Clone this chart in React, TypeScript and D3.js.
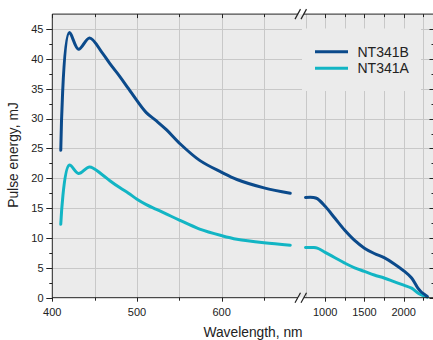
import React, { useEffect, useRef } from 'react';
import * as d3 from 'd3';

// wavelengths, nm (left part of the broken axis and right part)
const wlLeft = [410, 420, 431, 444, 459, 468, 480, 490, 500, 511, 523, 535, 550, 574, 600, 618, 650, 681];
const nt341bLeft = [24.7, 44.4, 41.6, 43.5, 41.0, 39.2, 37.0, 35.0, 33.0, 31.0, 29.6, 28.1, 25.9, 23.0, 21.0, 19.8, 18.4, 17.5];
const nt341aLeft = [12.3, 22.2, 20.8, 21.9, 20.6, 19.6, 18.4, 17.5, 16.5, 15.6, 14.8, 14.0, 13.0, 11.5, 10.4, 9.8, 9.2, 8.8];

const wlRight = [750, 850, 900, 1000, 1125, 1250, 1375, 1500, 1625, 1750, 1875, 2000, 2100, 2180, 2220, 2260, 2300];
const nt341bRight = [16.8, 16.8, 16.6, 15.3, 13.3, 11.3, 9.6, 8.3, 7.4, 6.7, 5.7, 4.5, 3.3, 1.6, 1.0, 0.6, 0.2];
const nt341aRight = [8.4, 8.4, 8.3, 7.6, 6.7, 5.8, 5.0, 4.4, 3.8, 3.3, 2.7, 2.1, 1.6, 0.8, 0.5, 0.3, 0.1];

const leftTicks = [400, 500, 600];
const leftMinor = [450, 550, 650];
const rightTicks = [1000, 1500, 2000];
const rightMinor = [1250, 1750, 2250];
const yTicks = [0, 5, 10, 15, 20, 25, 30, 35, 40, 45];

const seriesNames = ['NT341B', 'NT341A'];
const colors = ['#0b4a8b', '#12b5c4'];

const W = 433;
const H = 340;

const App = () => {
  const svgRef = useRef<SVGSVGElement>(null);

  useEffect(() => {
    const svg = d3.select(svgRef.current);
    svg.selectAll('*').remove();

    const top = 14.1, bottom = 297.7, left = 52.3, right = 433.5;
    const breakL = 298, breakR = 304;

    const xL = d3.scaleLinear().domain([400, 690]).range([left, 297.9]);
    const xR = d3.scaleLinear().domain([750, 2400]).range([305.5, 435.2]);
    const y = d3.scaleLinear().domain([0, 47.5]).range([bottom, top]);

    const font = 'Arial, "Liberation Sans", sans-serif';

    // plot background
    svg.append('rect')
      .attr('x', left).attr('y', top)
      .attr('width', right - left).attr('height', bottom - top)
      .attr('fill', '#ebebeb');

    // grid
    const grid = svg.append('g').attr('stroke', '#c8c8c8').attr('stroke-width', 1);
    yTicks.filter(d => d > 0).forEach(d => {
      grid.append('line')
        .attr('x1', left).attr('x2', right)
        .attr('y1', Math.round(y(d)) + 0.5).attr('y2', Math.round(y(d)) + 0.5);
    });
    [450, 500, 550, 600, 650].forEach(d => {
      grid.append('line')
        .attr('x1', Math.round(xL(d)) + 0.5).attr('x2', Math.round(xL(d)) + 0.5)
        .attr('y1', top).attr('y2', bottom);
    });
    [750, 1000, 1250, 1500, 1750, 2000, 2250].forEach(d => {
      grid.append('line')
        .attr('x1', Math.round(xR(d)) + 0.5).attr('x2', Math.round(xR(d)) + 0.5)
        .attr('y1', top).attr('y2', bottom);
    });

    // legend box hides the grid behind it
    svg.append('rect')
      .attr('x', 302).attr('y', 28.5)
      .attr('width', 119).attr('height', 62.5)
      .attr('fill', '#ebebeb');

    // curves
    const lineL = d3.line<number>()
      .x((_, i) => xL(wlLeft[i]))
      .y(d => y(d))
      .curve(d3.curveCatmullRom.alpha(0.5));
    const lineR = d3.line<number>()
      .x((_, i) => xR(wlRight[i]))
      .y(d => y(d))
      .curve(d3.curveCatmullRom.alpha(0.5));

    const drawSeries = (vals: number[], gen: d3.Line<number>, color: string) => {
      svg.append('path')
        .attr('d', gen(vals))
        .attr('fill', 'none')
        .attr('stroke', color)
        .attr('stroke-width', 3)
        .attr('stroke-linecap', 'round')
        .attr('stroke-linejoin', 'round');
    };
    drawSeries(nt341aLeft, lineL, colors[1]);
    drawSeries(nt341aRight, lineR, colors[1]);
    drawSeries(nt341bLeft, lineL, colors[0]);
    drawSeries(nt341bRight, lineR, colors[0]);

    // axes
    const ax = svg.append('g').attr('stroke', '#222').attr('stroke-width', 1).attr('fill', 'none');
    // left axis
    ax.append('line').attr('x1', left).attr('x2', left).attr('y1', top).attr('y2', bottom + 0.5);
    yTicks.forEach(d => {
      ax.append('line').attr('x1', left - 6).attr('x2', left)
        .attr('y1', Math.round(y(d)) + 0.5).attr('y2', Math.round(y(d)) + 0.5);
      ax.append('line').attr('x1', right - 4).attr('x2', right)
        .attr('y1', Math.round(y(d)) + 0.5).attr('y2', Math.round(y(d)) + 0.5);
    });
    yTicks.slice(0, -1).map(d => d + 2.5).forEach(d => {
      ax.append('line').attr('x1', left - 3).attr('x2', left)
        .attr('y1', Math.round(y(d)) + 0.5).attr('y2', Math.round(y(d)) + 0.5);
      ax.append('line').attr('x1', right - 2).attr('x2', right)
        .attr('y1', Math.round(y(d)) + 0.5).attr('y2', Math.round(y(d)) + 0.5);
    });
    ax.append('line').attr('x1', right).attr('x2', right).attr('y1', top).attr('y2', bottom);

    // top and bottom axis lines, broken
    [top, bottom].forEach(yy => {
      ax.append('line').attr('x1', left).attr('x2', breakL).attr('y1', yy).attr('y2', yy);
      ax.append('line').attr('x1', breakR).attr('x2', right).attr('y1', yy).attr('y2', yy);
    });

    const xTick = (px: number, len: number) => {
      const xx = Math.round(px) + 0.5;
      ax.append('line').attr('x1', xx).attr('x2', xx).attr('y1', bottom).attr('y2', bottom + len);
      ax.append('line').attr('x1', xx).attr('x2', xx).attr('y1', top).attr('y2', top + len);
    };
    leftTicks.forEach(d => xTick(xL(d), 4));
    leftMinor.forEach(d => xTick(xL(d), 3));
    rightTicks.forEach(d => xTick(xR(d), 4));
    rightMinor.forEach(d => xTick(xR(d), 3));

    // break marks
    [top, bottom].forEach(yy => {
      [0, 6].forEach(dx => {
        ax.append('line')
          .attr('x1', 295 + dx).attr('y1', yy + 5)
          .attr('x2', 300.5 + dx).attr('y2', yy - 5)
          .attr('stroke-width', 1.2);
      });
    });

    // tick labels
    const labels = svg.append('g')
      .attr('font-family', font).attr('font-size', 11).attr('fill', '#222');
    yTicks.forEach(d => {
      labels.append('text')
        .attr('x', 43.5).attr('y', y(d))
        .attr('dy', '0.35em')
        .attr('text-anchor', 'end')
        .text(d);
    });
    leftTicks.forEach(d => {
      labels.append('text')
        .attr('x', xL(d)).attr('y', 315.5)
        .attr('text-anchor', 'middle')
        .text(d);
    });
    rightTicks.forEach(d => {
      labels.append('text')
        .attr('x', xR(d)).attr('y', 315.5)
        .attr('text-anchor', 'middle')
        .text(d);
    });

    // axis titles
    svg.append('text')
      .attr('x', 253).attr('y', 336.5)
      .attr('text-anchor', 'middle')
      .attr('font-family', font).attr('font-size', 13.8).attr('fill', '#222')
      .text('Wavelength, nm');
    svg.append('text')
      .attr('transform', 'translate(17.5,155) rotate(-90)')
      .attr('text-anchor', 'middle')
      .attr('font-family', font).attr('font-size', 13.8).attr('fill', '#222')
      .text('Pulse energy, mJ');

    // legend
    seriesNames.forEach((name, i) => {
      const ly = 51.7 + i * 16.6;
      svg.append('line')
        .attr('x1', 315).attr('x2', 348)
        .attr('y1', ly).attr('y2', ly)
        .attr('stroke', colors[i]).attr('stroke-width', 3);
      svg.append('text')
        .attr('x', 357.5).attr('y', ly)
        .attr('dy', '0.36em')
        .attr('font-family', font).attr('font-size', 14).attr('fill', '#222')
        .text(name);
    });
  }, []);

  return (
    <svg
      ref={svgRef}
      width={W}
      height={H}
      style={{ position: 'absolute', left: 0, top: 0, background: '#fff' }}
    />
  );
};

export default App;
